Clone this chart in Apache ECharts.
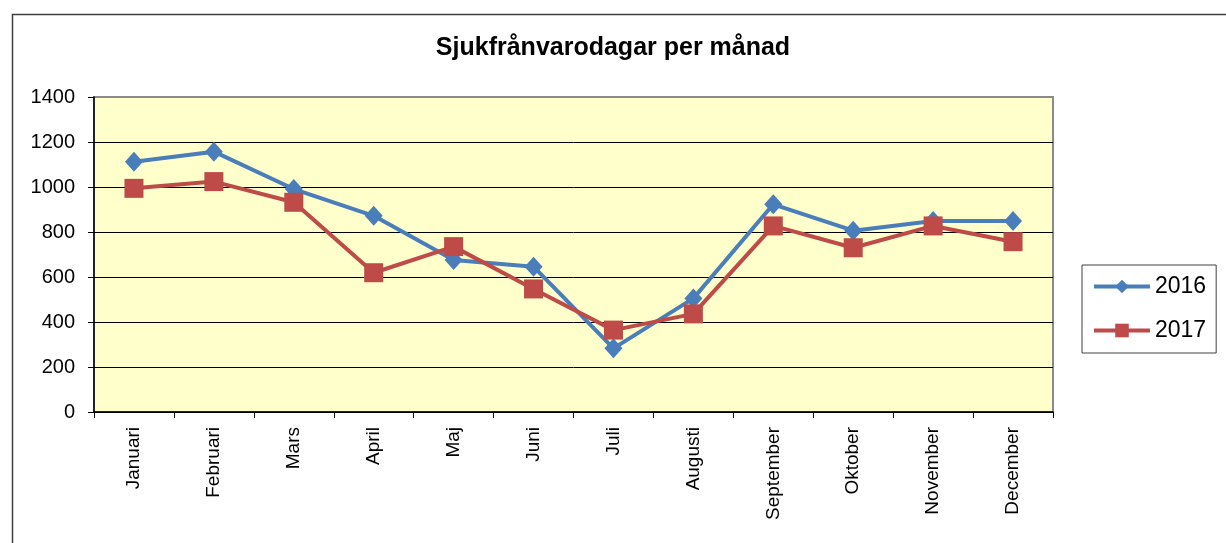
<!DOCTYPE html>
<html>
<head>
<meta charset="utf-8">
<script src="https://cdn.jsdelivr.net/npm/echarts@6/dist/echarts.min.js"></script>
<style>
html,body{margin:0;padding:0;background:#fff;}
#chart{width:1226px;height:543px;}
</style>
</head>
<body>
<div id="chart"></div>
<script>
const months = ['Januari','Februari','Mars','April','Maj','Juni','Juli','Augusti','September','Oktober','November','December'];
const values2016 = [1112, 1157, 991, 872, 676, 646, 283, 505, 923, 806, 849, 849];
const values2017 = [994, 1024, 932, 619, 735, 547, 364, 436, 827, 730, 827, 757];
const yTicks = [0, 200, 400, 600, 800, 1000, 1200, 1400];
const titleText = 'Sjukfrånvarodagar per månad';

const FONT = '"Liberation Sans", Arial, sans-serif';
const chart = echarts.init(document.getElementById('chart'), null, {renderer: 'canvas'});
chart.setOption({
  animation: false,
  backgroundColor: '#ffffff',
  title: {
    text: titleText,
    left: 'center',
    top: 31,
    padding: [5, 5, 5, 21],
    textStyle: {fontFamily: FONT, fontSize: 25, fontWeight: 'bold', color: '#000'}
  },
  graphic: [{
    type: 'rect', left: 10, top: 12, silent: true,
    shape: {width: 1240, height: 560},
    style: {fill: 'none', stroke: '#404040', lineWidth: 1.5}
  }],
  legend: {
    orient: 'vertical',
    left: 1082, top: 265,
    padding: [10, 10, 11, 10],
    itemGap: 21,
    itemWidth: 56,
    itemHeight: 17,
    borderColor: '#404040',
    borderWidth: 1,
    backgroundColor: '#fff',
    lineStyle: {width: 4},
    textStyle: {fontFamily: FONT, fontSize: 23, color: '#000', lineHeight: 23},
    data: ['2016', '2017']
  },
  grid: {
    left: 94, top: 97, right: 173, bottom: 131,
    show: true,
    backgroundColor: '#FFFFCC',
    borderColor: '#8a8a8a',
    borderWidth: 2
  },
  xAxis: {
    type: 'category',
    data: months,
    boundaryGap: true,
    axisLine: {show: true, lineStyle: {color: '#000', width: 1.5}},
    axisTick: {show: true, inside: false, length: 6, lineStyle: {color: '#000', width: 1}},
    axisLabel: {rotate: 90, margin: 15, fontFamily: FONT, fontSize: 19, color: '#000', interval: 0},
    splitLine: {show: false}
  },
  yAxis: {
    type: 'value',
    min: yTicks[0], max: yTicks[yTicks.length - 1], interval: 200,
    axisLine: {show: true, lineStyle: {color: '#000', width: 1.5}},
    axisTick: {show: true, inside: false, length: 6, lineStyle: {color: '#000', width: 1}},
    axisLabel: {margin: 19, fontFamily: FONT, fontSize: 20, color: '#000', formatter: function (v) { return String(v); }},
    splitLine: {show: true, showMaxLine: false, lineStyle: {color: '#000', width: 1}}
  },
  series: [{
    name: '2016',
    type: 'line',
    data: values2016,
    symbol: 'diamond',
    symbolSize: [18, 20],
    lineStyle: {color: '#4A7EBB', width: 4},
    itemStyle: {color: '#4A7EBB'},
    z: 3
  }, {
    name: '2017',
    type: 'line',
    data: values2017,
    symbol: 'rect',
    symbolSize: 19,
    lineStyle: {color: '#BE4B48', width: 4},
    itemStyle: {color: '#BE4B48'},
    z: 4
  }]
});
</script>
</body>
</html>
